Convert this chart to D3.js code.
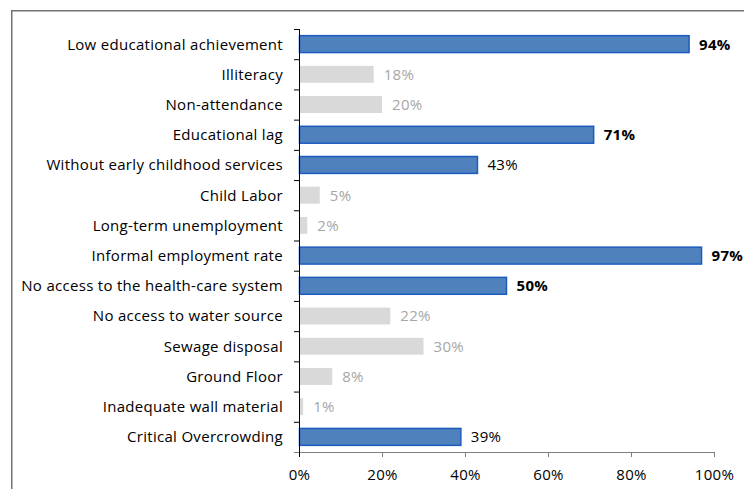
<!DOCTYPE html>
<html>
<head>
<meta charset="utf-8">
<script src="https://cdn.jsdelivr.net/npm/d3@7"></script>
<style>
  html, body { margin: 0; padding: 0; background: #fff; }
  svg { display: block; font-family: "Open Sans", Lato, sans-serif; }
</style>
</head>
<body>
<svg id="chart" width="744" height="489"></svg>
<script>
// Indicators, their shares, and how each is highlighted
const categories = [
  "Low educational achievement",
  "Illiteracy",
  "Non-attendance ",
  "Educational lag",
  "Without early childhood services",
  "Child Labor",
  "Long-term unemployment",
  "Informal employment rate",
  "No access to the health-care system",
  "No access to water source",
  "Sewage disposal",
  "Ground Floor",
  "Inadequate wall material",
  "Critical Overcrowding"
];
const values = [94, 18, 20, 71, 43, 5, 2, 97, 50, 22, 30, 8, 1, 39];
// "bold" = highlighted with bold label, "blue" = highlighted, "gray" = not highlighted
const emphasis = ["bold", "gray", "gray", "bold", "blue", "gray", "gray", "bold", "bold", "gray", "gray", "gray", "gray", "blue"];
const xTicks = [0, 20, 40, 60, 80, 100];

const FONT = "'Open Sans', Lato, sans-serif";
const FS = 15;
const LS = "0.3px";

const svg = d3.select("#chart");
const plotTop = 29, plotBottom = 452;

// Outer frame (extends past the right and bottom edges)
svg.append("path")
  .attr("d", "M11.75,489 L11.75,10.75 L744,10.75")
  .attr("fill", "none")
  .attr("stroke", "#737373")
  .attr("stroke-width", 1.5);

const x = d3.scaleLinear().domain([0, 100]).range([299, 714]);
const band = d3.scaleBand().domain(categories).range([plotTop, plotBottom]);
const y = d3.scaleBand().domain(categories).range([plotTop, plotBottom]).paddingInner(0.44).paddingOuter(0.22);

// Bars
svg.append("g").selectAll("rect")
  .data(categories)
  .join("rect")
  .attr("x", x(0) + 0.5)
  .attr("y", (d) => y(d))
  .attr("width", (d, i) => Math.max(0, x(values[i]) - x(0) - 0.5))
  .attr("height", y.bandwidth())
  .attr("fill", (d, i) => emphasis[i] === "gray" ? "#d9d9d9" : "#4f81bd")
  .attr("stroke", (d, i) => emphasis[i] === "gray" ? "none" : "#1d5cbf")
  .attr("stroke-width", 1.5);

// Value labels
svg.append("g").selectAll("text")
  .data(categories)
  .join("text")
  .attr("x", (d, i) => x(values[i]) + 10)
  .attr("y", (d) => y(d) + y.bandwidth() / 2)
  .attr("dy", "0.36em")
  .attr("font-size", FS)
  .attr("letter-spacing", LS)
  .attr("font-weight", (d, i) => emphasis[i] === "bold" ? "bold" : "normal")
  .attr("fill", (d, i) => emphasis[i] === "gray" ? "#a6a6a6" : "#000")
  .text((d, i) => values[i] + "%");

// Value axis (drawn first so the category axis sits on top at the corner)
const xAxis = d3.axisBottom(x).tickValues(xTicks).tickSize(5).tickSizeOuter(0).tickFormat((d) => d + "%");
const xG = svg.append("g").attr("transform", `translate(0,${plotBottom})`).call(xAxis);
xG.select(".domain").attr("stroke", "#7f7f7f");
xG.selectAll(".tick line").attr("stroke", "#7f7f7f");
xG.append("line")
  .attr("x1", x(0) - 5).attr("x2", x(0))
  .attr("y1", 0.5).attr("y2", 0.5)
  .attr("stroke", "#7f7f7f");
xG.selectAll(".tick text")
  .attr("font-size", FS)
  .attr("font-family", FONT)
  .attr("letter-spacing", LS)
  .attr("fill", "#000")
  .attr("dy", "1.35em");

// Category axis: vertical line with ticks at band boundaries
const yG = svg.append("g").attr("transform", `translate(${x(0)},0)`);
yG.append("line")
  .attr("x1", 0.5).attr("x2", 0.5)
  .attr("y1", plotTop).attr("y2", plotBottom + 5)
  .attr("stroke", "#000");
yG.selectAll("line.bound")
  .data(d3.range(categories.length))
  .join("line")
  .attr("class", "bound")
  .attr("x1", -5).attr("x2", 0.5)
  .attr("y1", (i) => plotTop + i * band.step() + 0.5)
  .attr("y2", (i) => plotTop + i * band.step() + 0.5)
  .attr("stroke", "#000");

// Category labels
svg.append("g").selectAll("text")
  .data(categories)
  .join("text")
  .attr("x", x(0) - 16)
  .attr("y", (d) => band(d) + band.bandwidth() / 2)
  .attr("dy", "0.36em")
  .attr("text-anchor", "end")
  .attr("font-size", FS)
  .attr("letter-spacing", LS)
  .attr("fill", "#000")
  .text((d) => d);
</script>
</body>
</html>
